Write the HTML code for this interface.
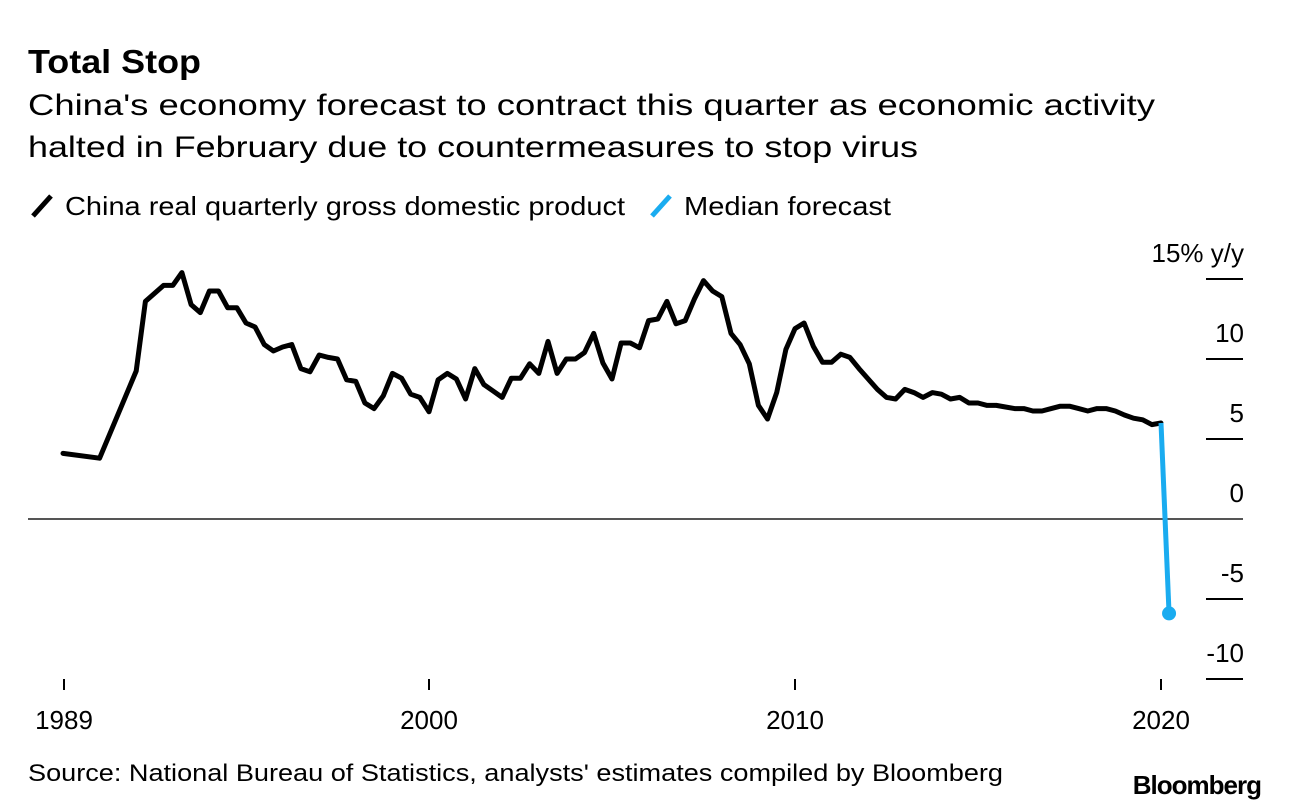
<!DOCTYPE html>
<html><head><meta charset="utf-8">
<style>
html,body{margin:0;padding:0;background:#fff;}
body{width:1289px;height:810px;overflow:hidden;font-family:"Liberation Sans",Arial,sans-serif;color:#000;}
</style></head>
<body>
<svg width="1289" height="810" viewBox="0 0 1289 810" style="position:absolute;left:0;top:0;font-family:'Liberation Sans',Arial,sans-serif">
  <text x="28" y="73" font-size="33" font-weight="bold" textLength="173" lengthAdjust="spacingAndGlyphs">Total Stop</text>
  <text x="28" y="115" font-size="30" textLength="1127" lengthAdjust="spacingAndGlyphs">China's economy forecast to contract this quarter as economic activity</text>
  <text x="28" y="157" font-size="30" textLength="890" lengthAdjust="spacingAndGlyphs">halted in February due to countermeasures to stop virus</text>
  <g>
    <line x1="33" y1="216" x2="51" y2="196" stroke="#000" stroke-width="5"/>
    <text x="65" y="215" font-size="26" textLength="560" lengthAdjust="spacingAndGlyphs">China real quarterly gross domestic product</text>
    <line x1="652" y1="216" x2="670" y2="196" stroke="#1aacf0" stroke-width="5"/>
    <text x="684" y="215" font-size="26" textLength="207" lengthAdjust="spacingAndGlyphs">Median forecast</text>
  </g>
  <g id="yaxis"></g>
  <g id="xaxis"></g>
  <line id="zero" stroke="#555" stroke-width="2"/>
  <g id="series"></g>
  <text x="28" y="781" font-size="24" textLength="975" lengthAdjust="spacingAndGlyphs">Source: National Bureau of Statistics, analysts' estimates compiled by Bloomberg</text>
  <text x="1261" y="794" font-size="26" font-weight="bold" text-anchor="end" letter-spacing="-1">Bloomberg</text>
</svg>
<script>
const annualYears = [1990, 1991];
const annualValues = [4.1, 3.8];
const quarterStart = 1992;
const quarterlyValues = [9.25,13.6,14.1,14.6,14.6,15.4,13.4,12.9,14.25,14.25,13.2,13.2,12.25,12.0,10.9,10.5,10.75,10.9,9.4,9.2,10.25,10.1,10.0,8.7,8.6,7.25,6.9,7.7,9.1,8.8,7.8,7.6,6.7,8.7,9.1,8.75,7.5,9.4,8.4,8.0,7.6,8.8,8.8,9.7,9.1,11.1,9.1,10.0,10.0,10.4,11.6,9.75,8.75,11.0,11.0,10.7,12.4,12.5,13.6,12.2,12.4,13.75,14.9,14.25,13.9,11.6,10.9,9.7,7.1,6.25,7.9,10.6,11.9,12.25,10.8,9.8,9.8,10.3,10.1,9.4,8.75,8.1,7.6,7.5,8.1,7.9,7.6,7.9,7.8,7.5,7.6,7.25,7.25,7.1,7.1,7.0,6.9,6.9,6.75,6.75,6.9,7.05,7.05,6.9,6.75,6.9,6.9,6.75,6.5,6.3,6.2,5.9,6.0];
const forecastYears = [2020.0, 2020.22];
const forecastValues = [6.0, -5.9];
const yTicks = [15, 10, 5, 0, -5, -10];
const yTickLabels = ['15% y/y', '10', '5', '0', '-5', '-10'];
const xTicks = [1990, 2000, 2010, 2020];
const xTickLabels = ['1989', '2000', '2010', '2020'];

const NS = 'http://www.w3.org/2000/svg';
function xs(yr){ return 795 + (yr - 2010) * 36.6; }
function ys(v){ return 519 - v * 16; }
function mk(tag, attrs, parent){ const e=document.createElementNS(NS,tag); for(const k in attrs) e.setAttribute(k,attrs[k]); parent.appendChild(e); return e; }

const yaxis=document.getElementById('yaxis');
yTicks.forEach((t,i)=>{
  if(t!==0){
    const l=mk('line',{x1:1206,x2:1243,y1:ys(t),y2:ys(t),stroke:'#000','stroke-width':2},yaxis);
    
    
  }
  const tx=mk('text',{x:1244,y:ys(t)-17,'font-size':26,'text-anchor':'end'},yaxis);
  tx.textContent=yTickLabels[i];
  
  
});
const z=document.getElementById('zero');
z.setAttribute('x1',28); z.setAttribute('x2',1243); z.setAttribute('y1',ys(0)); z.setAttribute('y2',ys(0));

const xaxis=document.getElementById('xaxis');
xTicks.forEach((t,i)=>{
  const px = i===0 ? 64 : xs(t);
  const l=mk('line',{x1:px,x2:px,y1:679,y2:690,stroke:'#000','stroke-width':2},xaxis);
  
  
  const tx=mk('text',{x:px,y:729,'font-size':26,'text-anchor':'middle'},xaxis);
  tx.textContent=xTickLabels[i];
  
  
});

const series=document.getElementById('series');
const pts=[];
annualYears.forEach((y,i)=>pts.push([xs(y),ys(annualValues[i])]));
quarterlyValues.forEach((v,i)=>pts.push([xs(quarterStart+i*0.25),ys(v)]));
const gdp=mk('polyline',{points:pts.map(p=>p.map(n=>n.toFixed(1)).join(',')).join(' '),fill:'none',stroke:'#000','stroke-width':5,'stroke-linejoin':'round','stroke-linecap':'round'},series);


const fpts=forecastYears.map((y,i)=>[xs(y),ys(forecastValues[i])]);
const fl=mk('polyline',{points:fpts.map(p=>p.join(',')).join(' '),fill:'none',stroke:'#1aacf0','stroke-width':5,'stroke-linecap':'butt'},series);


const last=fpts[fpts.length-1];
const dot=mk('circle',{cx:last[0],cy:last[1],r:7,fill:'#1aacf0'},series);


</script>
</body></html>
